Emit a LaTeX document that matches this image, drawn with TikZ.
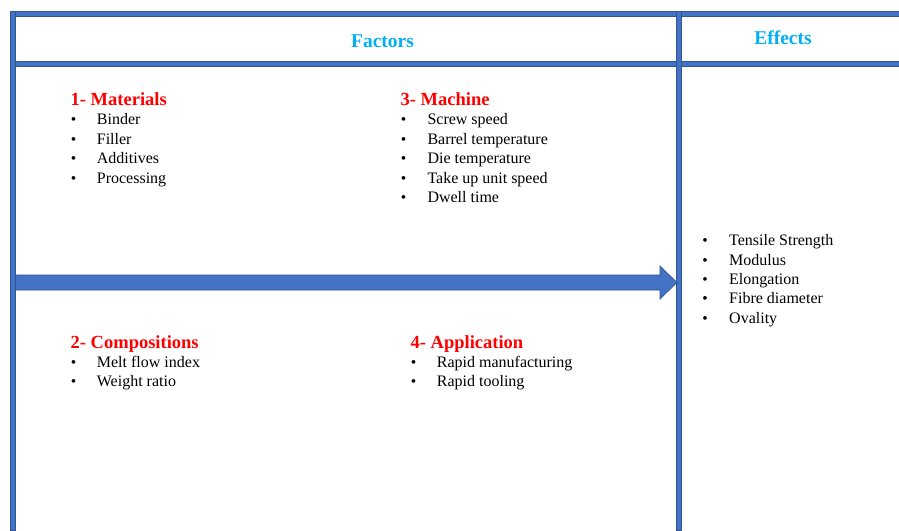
\documentclass[tikz,border=0pt]{standalone}
\usepackage{fontspec}
\setmainfont{Liberation Serif}
\definecolor{framefill}{HTML}{4472C4}
\definecolor{frameedge}{HTML}{2F5597}
\definecolor{headcyan}{HTML}{00B0F0}
\definecolor{headred}{HTML}{FF0000}
\tikzset{
  bar/.style={fill=framefill, draw=frameedge, line width=0.7pt},
  title/.style={text=headcyan, font=\fontsize{19.5}{22}\selectfont\bfseries, inner sep=0pt, anchor=base},
  group/.style={text=headred, font=\fontsize{18.5}{22}\selectfont\bfseries, inner sep=0pt, anchor=base west},
  entry/.style={font=\fontsize{16}{19}\selectfont, inner sep=0pt, anchor=base west},
  dot/.style={font=\fontsize{15.5}{19}\selectfont, inner sep=0pt, anchor=base},
}
\begin{document}
\begin{tikzpicture}[x=1pt, y=-1pt]
\useasboundingbox (0,0) rectangle (899,530);

% frame
\draw[bar] (10,11) rectangle (899,16);
\draw[bar] (10,61) rectangle (899,66);
\draw[bar] (10,11) rectangle (15.5,530);
\draw[bar] (676.7,11) rectangle (681.7,530);

% big arrow
\coordinate (arrowtail) at (15.5,282.5);
\coordinate (arrowtip) at (677,282.5);
\draw[bar] (15.5,275) -- (660,275) -- (660,266) -- (arrowtip) -- (660,299) -- (660,290) -- (15.5,290) -- cycle;

\node[title] (factors) at (382.5,47.7) {Factors};
\node[title] (effects) at (783,44.3) {Effects};

% factor groups
\node[group] (materials) at (70.5,105.7) {1- Materials};
\foreach \txt [count=\i] in {Binder, Filler, Additives, Processing} {
  \node[dot] (matdot\i) at (73.5,105.5+19.4*\i) {•};
  \node[entry] (mat\i) at (96.7,105.5+19.4*\i) {\txt};
}
\node[group] (machine) at (400.5,105.7) {3- Machine};
\foreach \txt [count=\i] in {Screw speed, Barrel temperature, Die temperature, Take up unit speed, Dwell time} {
  \node[dot] (macdot\i) at (403.5,105.5+19.4*\i) {•};
  \node[entry] (mac\i) at (427.3,105.5+19.4*\i) {\txt};
}
\node[group] (compositions) at (70.5,348.3) {2- Compositions};
\foreach \txt [count=\i] in {Melt flow index, Weight ratio} {
  \node[dot] (comdot\i) at (73.5,347.9+19.4*\i) {•};
  \node[entry] (com\i) at (96.7,347.9+19.4*\i) {\txt};
}
\node[group] (application) at (410.5,348.3) {4- Application};
\foreach \txt [count=\i] in {Rapid manufacturing, Rapid tooling} {
  \node[dot] (appdot\i) at (413.5,347.9+19.4*\i) {•};
  \node[entry] (app\i) at (436.7,347.9+19.4*\i) {\txt};
}

% effects list
\foreach \txt [count=\i] in {Tensile Strength, Modulus, Elongation, Fibre diameter, Ovality} {
  \node[dot] (effdot\i) at (705,226.3+19.4*\i) {•};
  \node[entry] (eff\i) at (729,226.3+19.4*\i) {\txt};
}
\end{tikzpicture}
\end{document}
